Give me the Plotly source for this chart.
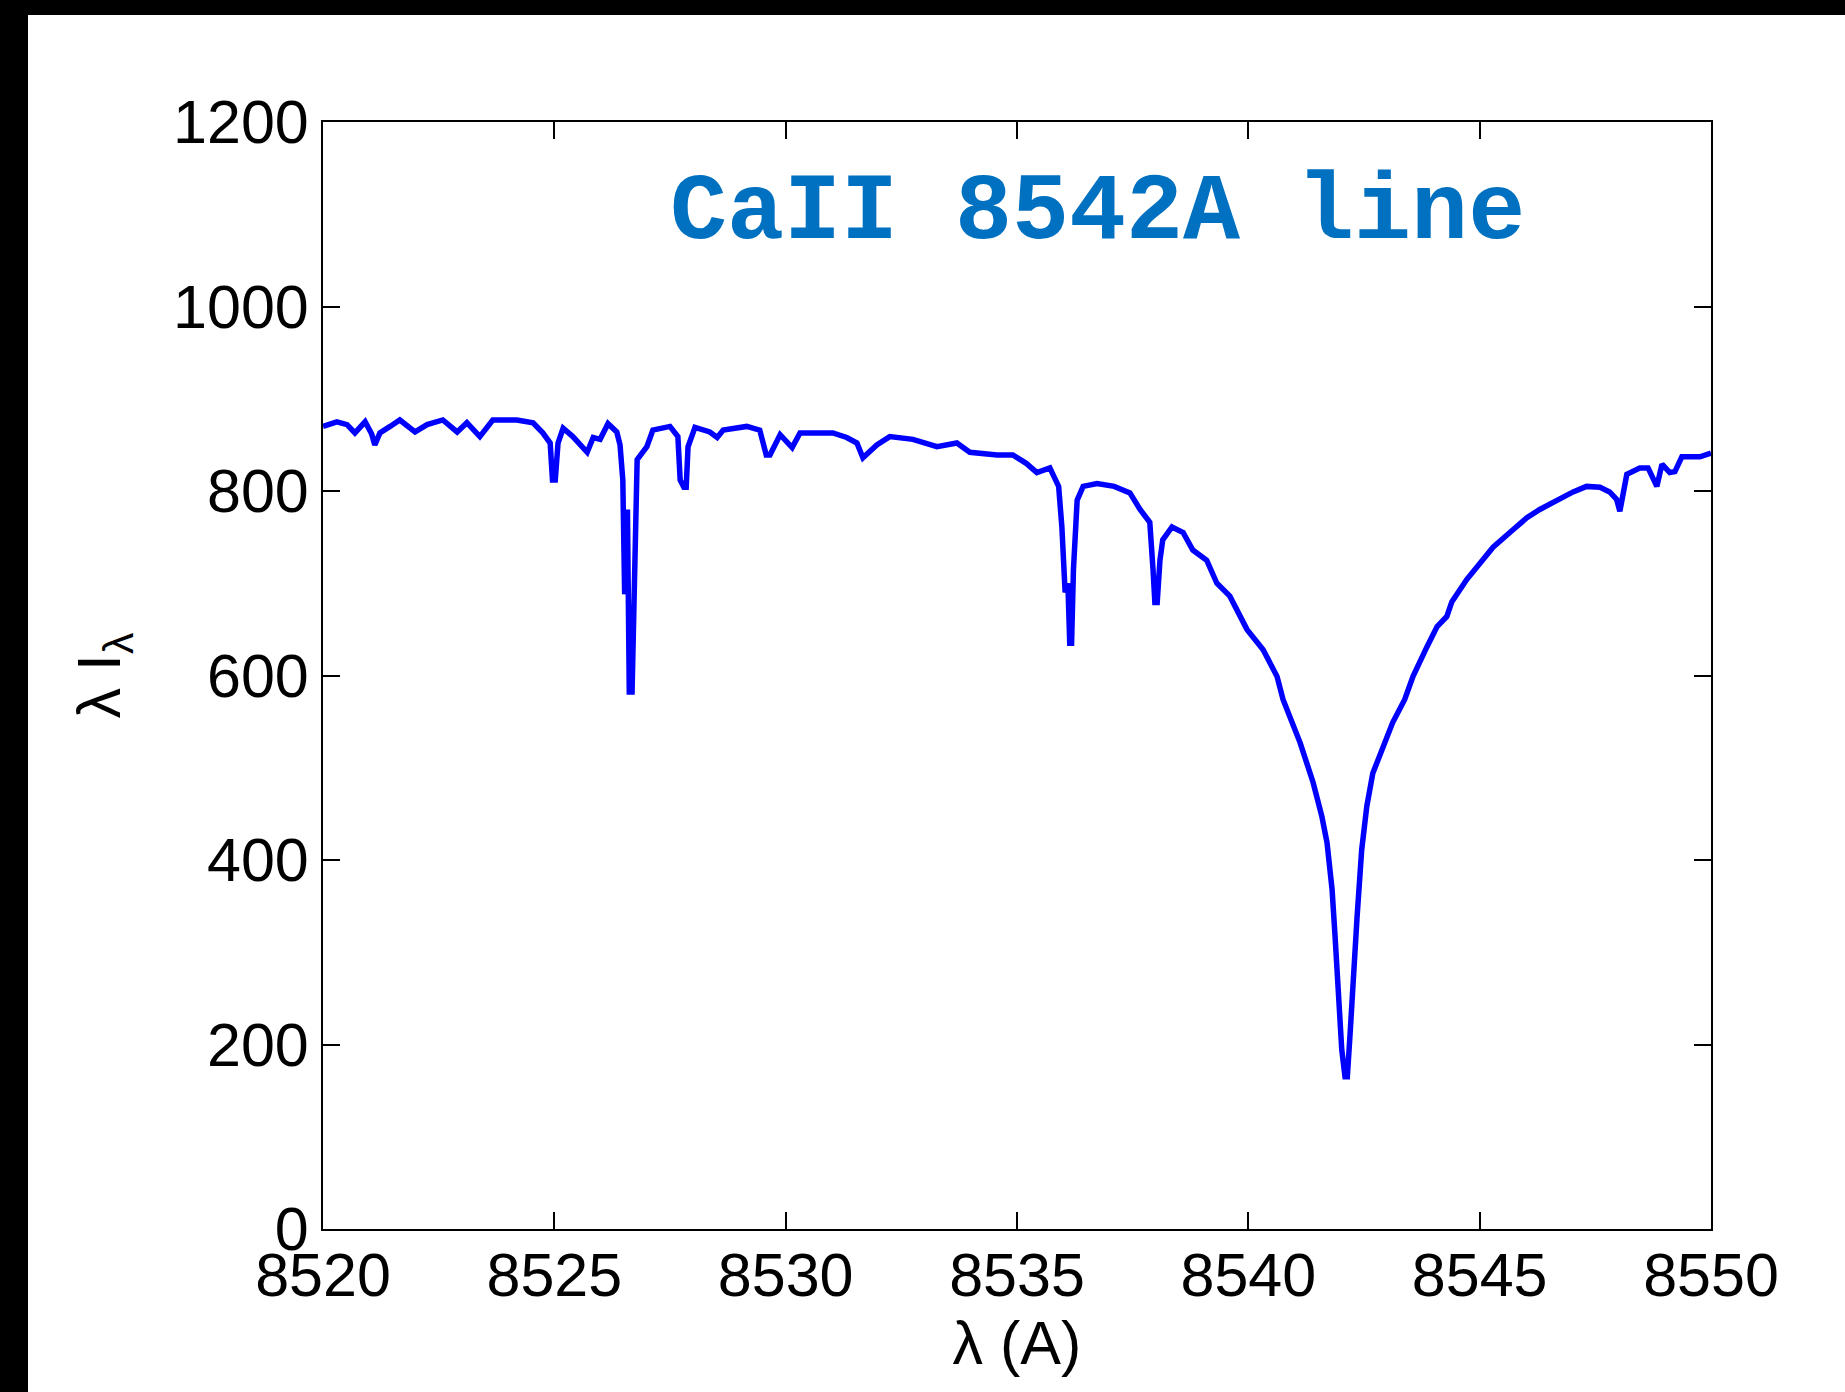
import plotly.graph_objects as go

# Wavelength (Angstrom) and lambda*I_lambda
wavelength = [
    8520.00, 8520.30, 8520.52, 8520.69, 8520.91, 8521.05, 8521.12, 8521.23, 8521.45, 8521.66,
    8521.99, 8522.25, 8522.59, 8522.90, 8523.11, 8523.39, 8523.67, 8524.19, 8524.54, 8524.75,
    8524.91, 8524.96, 8525.02, 8525.08, 8525.19, 8525.40, 8525.71, 8525.84, 8525.99, 8526.16,
    8526.35, 8526.42, 8526.48, 8526.52, 8526.58, 8526.62, 8526.68, 8526.74, 8526.79, 8527.00,
    8527.13, 8527.50, 8527.67, 8527.72, 8527.80, 8527.85, 8527.89, 8528.04, 8528.36, 8528.52,
    8528.65, 8529.16, 8529.44, 8529.58, 8529.66, 8529.88, 8530.14, 8530.31, 8531.02, 8531.32,
    8531.54, 8531.67, 8531.97, 8532.25, 8532.75, 8533.27, 8533.70, 8533.98, 8534.57, 8534.91,
    8535.20, 8535.43, 8535.71, 8535.90, 8535.97, 8536.04, 8536.10, 8536.14, 8536.18, 8536.22,
    8536.30, 8536.43, 8536.73, 8537.10, 8537.44, 8537.66, 8537.87, 8537.94, 8537.98, 8538.03,
    8538.09, 8538.15, 8538.35, 8538.59, 8538.80, 8539.10, 8539.32, 8539.60, 8539.97, 8540.32,
    8540.62, 8540.75, 8541.12, 8541.40, 8541.59, 8541.70, 8541.81, 8541.87, 8541.94, 8542.02,
    8542.09, 8542.14, 8542.20, 8542.26, 8542.35, 8542.45, 8542.56, 8542.69, 8542.91, 8543.12,
    8543.38, 8543.56, 8543.86, 8544.08, 8544.29, 8544.40, 8544.72, 8545.01, 8545.29, 8545.72,
    8546.02, 8546.30, 8546.58, 8546.80, 8547.02, 8547.31, 8547.60, 8547.81, 8547.96, 8548.03,
    8548.10, 8548.18, 8548.46, 8548.64, 8548.83, 8548.94, 8549.11, 8549.22, 8549.37, 8549.76,
    8550.00,
]
intensity = [
    870, 875, 872, 863, 875, 862, 850, 863, 870, 877,
    864, 872, 877, 864, 874, 859, 877, 877, 874, 863,
    852, 812, 812, 852, 868, 859, 842, 858, 856, 873,
    864, 850, 812, 688, 780, 582, 582, 711, 834, 848,
    866, 870, 859, 812, 804, 804, 848, 869, 864, 858,
    866, 870, 866, 839, 839, 861, 847, 863, 863, 858,
    852, 836, 850, 859, 856, 848, 852, 842, 839, 839,
    830, 820, 825, 805, 761, 690, 700, 635, 635, 715,
    790, 805, 808, 805, 798, 780, 766, 715, 679, 679,
    725, 747, 761, 755, 736, 725, 700, 686, 650, 628,
    599, 574, 527, 484, 447, 419, 368, 321, 256, 194,
    165, 165, 212, 267, 338, 411, 458, 494, 523, 549,
    574, 599, 631, 653, 664, 680, 704, 722, 739, 758,
    771, 780, 787, 794, 799, 805, 804, 799, 791, 778,
    798, 818, 825, 825, 805, 829, 820, 821, 837, 837,
    841,
]

x_ticks = [8520, 8525, 8530, 8535, 8540, 8545, 8550]
y_ticks = [0, 200, 400, 600, 800, 1000, 1200]
title_text = "CaII 8542A line"
x_title = "λ (A)"
y_title = "λ I<sub>λ</sub>"

W, H = 1845, 1392
L, R, T, B = 323, 134, 122, 163
pw, ph = W - L - R, H - T - B

def px(xpix):
    return (xpix - L) / pw

def py(ypix):
    return (H - B - ypix) / ph

fig = go.Figure()
fig.add_trace(go.Scatter(
    x=wavelength, y=intensity, mode="lines",
    line=dict(color="#0000FF", width=5.5),
    showlegend=False, hoverinfo="skip",
))

axis_font = dict(family="Liberation Sans, Arial, Helvetica, sans-serif", size=61, color="black")

fig.update_xaxes(
    range=[8520, 8550], tickvals=x_ticks, ticktext=[str(v) for v in x_ticks],
    ticks="inside", ticklen=17, tickwidth=2, tickcolor="black",
    showline=True, linecolor="black", linewidth=2, mirror="allticks",
    showgrid=False, zeroline=False, tickfont=axis_font, ticklabelstandoff=-8,
    title=dict(text=x_title, font=axis_font, standoff=12),
)
fig.update_yaxes(
    range=[0, 1200], tickvals=y_ticks, ticktext=[str(v) for v in y_ticks],
    ticks="inside", ticklen=17, tickwidth=2, tickcolor="black",
    showline=True, linecolor="black", linewidth=2, mirror="allticks",
    showgrid=False, zeroline=False, tickfont=axis_font,
    title=dict(text=y_title, font=axis_font, standoff=33),
)

fig.add_annotation(
    x=px(1097), y=py(213), xref="paper", yref="paper",
    text=title_text, showarrow=False, xanchor="center", yanchor="middle",
    font=dict(family="Liberation Mono, Courier New, monospace", size=95, color="#0070C0", weight="bold"),
)

# black frame strips at top and left of the page
fig.add_shape(type="rect", xref="paper", yref="paper",
              x0=px(0), x1=px(W), y0=py(15), y1=py(0),
              fillcolor="black", line_width=0, layer="above")
fig.add_shape(type="rect", xref="paper", yref="paper",
              x0=px(0), x1=px(28), y0=py(H), y1=py(0),
              fillcolor="black", line_width=0, layer="above")

fig.update_layout(
    width=W, height=H,
    margin=dict(l=L, r=R, t=T, b=B, autoexpand=False),
    paper_bgcolor="white", plot_bgcolor="white",
)

fig.write_html("out.html")
